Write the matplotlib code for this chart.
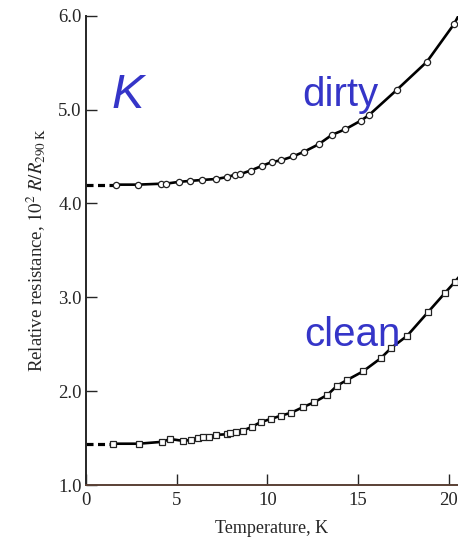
import matplotlib
matplotlib.use("Agg")
import matplotlib.pyplot as plt

# dirty sample (open circles)
dirty_T = [1.67, 2.85, 4.15, 4.39, 5.14, 5.75, 6.41, 7.15, 7.77, 8.19, 8.47, 9.07,
           9.70, 10.23, 10.76, 11.40, 12.01, 12.82, 13.55, 14.29, 15.13, 15.59,
           17.13, 18.79, 20.28]
dirty_R = [4.20, 4.20, 4.21, 4.21, 4.23, 4.24, 4.25, 4.26, 4.28, 4.305, 4.31, 4.35,
           4.40, 4.44, 4.46, 4.50, 4.55, 4.63, 4.73, 4.79, 4.88, 4.94,
           5.21, 5.51, 5.91]

# clean sample (open squares)
clean_T = [1.50, 2.90, 4.20, 4.63, 5.36, 5.79, 6.15, 6.46, 6.79, 7.16, 7.77, 7.92,
           8.28, 8.65, 9.15, 9.62, 10.21, 10.76, 11.31, 11.96, 12.56, 13.30, 13.85,
           14.40, 15.26, 16.24, 16.82, 17.70, 18.84, 19.80, 20.31]
clean_R = [1.44, 1.44, 1.46, 1.49, 1.47, 1.48, 1.50, 1.51, 1.51, 1.535, 1.54, 1.55,
           1.57, 1.58, 1.62, 1.67, 1.705, 1.74, 1.77, 1.83, 1.88, 1.96, 2.06,
           2.12, 2.21, 2.35, 2.46, 2.59, 2.84, 3.05, 3.16]

# extrapolation to T = 0 (dashed) and curve tails past last point
dirty_ext_T = [0.0, 1.67]
dirty_ext_R = [4.20, 4.20]
clean_ext_T = [0.0, 1.50]
clean_ext_R = [1.44, 1.44]
dirty_tail_T = [20.28, 20.7]
dirty_tail_R = [5.91, 6.06]
clean_tail_T = [20.31, 20.7]
clean_tail_R = [3.16, 3.25]

x_ticks = [0, 5, 10, 15, 20]
y_ticks = [1.0, 2.0, 3.0, 4.0, 5.0, 6.0]

plt.rcParams["mathtext.fontset"] = "stix"
serif = "Liberation Serif"
label_blue = "#3535c8"
ink = "#262626"

fig = plt.figure(figsize=(4.58, 5.41), dpi=100)
ax = fig.add_axes([0.1878, 0.1035, 0.8122, 0.8675])

ax.plot(dirty_ext_T, dirty_ext_R, color="black", lw=2.3, ls=(0, (2.2, 1.4)))
ax.plot(clean_ext_T, clean_ext_R, color="black", lw=2.3, ls=(0, (2.2, 1.4)))
ax.plot(dirty_tail_T, dirty_tail_R, color="black", lw=1.9)
ax.plot(clean_tail_T, clean_tail_R, color="black", lw=1.9)
ax.plot(dirty_T, dirty_R, "-o", color="black", lw=1.9, ms=4.5,
        mfc="white", mec="#222222", mew=0.9)
ax.plot(clean_T, clean_R, "-s", color="black", lw=1.9, ms=4.9,
        mfc="white", mec="#222222", mew=0.9)

ax.set_xlim(0, 20.5)
ax.set_ylim(1.0, 6.0)
ax.set_xticks(x_ticks)
ax.set_yticks(y_ticks)
ax.set_yticklabels([f"{v:.1f}" for v in y_ticks])

for s in ["top", "right"]:
    ax.spines[s].set_visible(False)
ax.spines["left"].set_linewidth(1.4)
ax.spines["left"].set_color(ink)
ax.spines["bottom"].set_linewidth(1.4)
ax.spines["bottom"].set_color("#5a4035")

ax.tick_params(direction="in", length=8, width=1.0, color=ink)
ax.tick_params(axis="y", pad=3)
ax.tick_params(axis="x", pad=5)
for lab in ax.get_xticklabels() + ax.get_yticklabels():
    lab.set_fontfamily(serif)
    lab.set_fontsize(13.5)
    lab.set_color(ink)

ax.set_xlabel("Temperature, K", fontfamily=serif, fontsize=13, color=ink,
              labelpad=8)
ax.set_ylabel(r"Relative resistance, $10^2\ R/R_{290\ \mathrm{K}}$",
              fontfamily=serif, fontsize=13.5, color=ink, labelpad=8)

ax.text(1.4, 5.15, "K", fontfamily="Liberation Sans", style="italic",
        fontsize=35, color=label_blue, ha="left", va="center")
ax.text(14.0, 5.15, "dirty", fontfamily="Liberation Sans", fontsize=29,
        color=label_blue, ha="center", va="center")
ax.text(14.7, 2.60, "clean", fontfamily="Liberation Sans", fontsize=29,
        color=label_blue, ha="center", va="center")

fig.savefig("out.png", dpi=100)
